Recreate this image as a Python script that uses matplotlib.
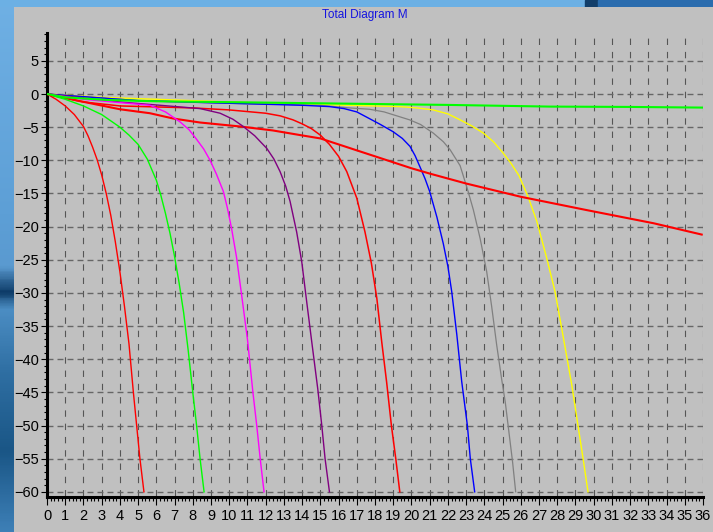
import matplotlib
matplotlib.use("Agg")
import matplotlib.pyplot as plt
import numpy as np
from matplotlib.ticker import MultipleLocator
from matplotlib.colors import LinearSegmentedColormap

plt.rcParams['font.family'] = ['Liberation Sans', 'DejaVu Sans']

# curves (x, y)
red1_x = [0, 0.5, 1, 1.5, 2, 2.25, 2.5, 2.75, 3, 3.25, 3.5, 3.75, 4, 4.25, 4.5, 4.74, 4.92, 5.1, 5.32]
red1_y = [0, -0.8, -1.8, -3.1, -4.9, -6.3, -8.0, -9.9, -12.2, -15.0, -18.3, -22.3, -26.8, -32, -37.7, -45, -50, -55, -60]

green1_x = [0, 1, 2, 3, 4, 4.5, 5, 5.5, 6, 6.25, 6.5, 6.75, 7, 7.25, 7.5, 7.75, 8, 8.21, 8.4, 8.62]
green1_y = [0, -0.8, -1.8, -3.1, -5.0, -6.2, -7.6, -9.8, -13, -15.3, -18, -21, -24.5, -28.5, -33, -38.7, -45, -50, -55, -60]

magenta_x = [0, 2, 4, 5.65, 6.5, 7.3, 7.8, 8.2, 8.6, 8.95, 9.3, 9.68, 9.9, 10.13, 10.4, 10.68, 11.0, 11.3, 11.51, 11.7, 11.91]
magenta_y = [0, -0.8, -1.3, -1.7, -2.7, -4.2, -5.4, -6.8, -8.3, -10, -12.1, -14.7, -17.2, -20.3, -24.6, -30.3, -37, -45, -50, -55, -60]

purple_x = [0, 4, 8.4, 9.5, 10.2, 10.77, 11.4, 12.06, 12.45, 12.79, 13.1, 13.34, 13.7, 13.98, 14.25, 14.53, 14.86, 15.08, 15.26, 15.5]
purple_y = [0, -1.2, -2.2, -2.9, -3.8, -4.9, -6.3, -8.2, -9.8, -11.7, -13.9, -16.2, -20.8, -25.3, -31.3, -37.4, -44.5, -50, -55, -60]

red2_x = [0, 2, 4, 8, 10, 12, 12.8, 13.5, 14.0, 14.5, 15.0, 15.5, 16.0, 16.45, 17, 17.45, 17.8, 18.1, 18.37, 18.64, 18.9, 19.14, 19.36]
red2_y = [0, -1.2, -1.8, -2.1, -2.4, -2.9, -3.3, -3.9, -4.5, -5.2, -6.2, -7.6, -9.4, -11.7, -15.7, -20.8, -25.5, -30.8, -37.4, -43.5, -50, -55, -60]

blue_x = [0, 5, 10, 14, 15.5, 16.3, 17, 17.55, 18.3, 19.0, 19.5, 19.92, 20.2, 20.47, 20.75, 21.0, 21.4, 21.75, 22.0, 22.21, 22.49, 22.76, 23.07, 23.23, 23.47]
blue_y = [0, -1.0, -1.4, -1.7, -1.9, -2.2, -2.7, -3.5, -4.6, -5.7, -6.7, -7.9, -9.3, -11.0, -12.8, -14.7, -18.6, -22.6, -26, -29.8, -36.3, -43.4, -50, -55, -60]

gray_x = [0, 5, 10, 15, 16.6, 17.7, 18.5, 19.9, 20.5, 21.2, 21.75, 22.12, 22.67, 23.1, 23.4, 23.77, 24.13, 24.4, 24.68, 24.95, 25.15, 25.35, 25.55, 25.72]
gray_y = [0, -1.0, -1.4, -1.7, -2.1, -2.3, -2.7, -3.9, -4.6, -5.9, -7.2, -8.4, -10.8, -14.6, -17.5, -21.8, -26.8, -32, -37.9, -43, -46.5, -51, -55.5, -60]

yellow_x = [0, 3, 6, 10, 15, 19.37, 20.3, 21.2, 22.0, 22.67, 23.3, 23.95, 24.5, 25.0, 25.45, 25.9, 26.4, 26.88, 27.4, 27.88, 28.34, 28.8, 29.14, 29.42, 29.69]
yellow_y = [0, -0.5, -0.8, -1.2, -1.6, -1.9, -2.1, -2.4, -3.0, -3.9, -4.8, -5.9, -7.2, -8.8, -10.4, -12.3, -15.5, -19.2, -24.5, -29.8, -36.8, -43.9, -50, -55, -60]

red3_x = [0, 1.5, 4, 5.65, 6.93, 8.4, 10.6, 12.4, 13.9, 15, 16, 17, 18, 19, 20, 21, 23, 26, 29.6, 33.3, 35.93]
red3_y = [0, -0.9, -2.3, -2.9, -3.7, -4.3, -4.9, -5.5, -6.2, -6.7, -7.6, -8.5, -9.4, -10.3, -11.2, -12.0, -13.5, -15.5, -17.5, -19.5, -21.2]

lime_x = [0, 1, 3.3, 6, 10.6, 17.7, 22.1, 27.6, 32, 36]
lime_y = [0, -0.5, -0.9, -1.1, -1.25, -1.5, -1.65, -1.9, -1.95, -2.05]

W, H = 713, 532
fig = plt.figure(figsize=(W / 100, H / 100), dpi=100)
fig.patch.set_facecolor('#c0c0c0')

# blue desktop strips around the grey panel
side = fig.add_axes([0, 0, 14 / W, 1])
side.axis('off')
cmap = LinearSegmentedColormap.from_list('desk', [
    (0.0, '#3d7fb6'), (0.15, '#1a5686'), (0.3, '#2f6fa3'), (0.42, '#4c8ec4'),
    (0.45, '#0c3a66'), (0.5, '#5a9ad0'), (0.6, '#5d9fd6'), (1.0, '#6fb0e4')])
side.imshow(np.linspace(0, 1, 200).reshape(-1, 1), aspect='auto', cmap=cmap,
            extent=[0, 1, 0, 1], origin='lower')
top = fig.add_axes([0, 1 - 7 / H, 1, 7 / H])
top.axis('off')
top.set_xlim(0, W)
top.set_ylim(0, 1)
top.axvspan(0, 585, color='#6cb0e4')
top.axvspan(585, 598, color='#123e6a')
top.axvspan(598, W, color='#2a6cae')

ax = fig.add_axes([47 / W, (H - 497) / H, (703 - 47) / W, (497 - 33) / H])
ax.set_facecolor('#c0c0c0')

ax.plot(lime_x, lime_y, color='#00ff00', lw=1.5, zorder=4)
ax.plot(yellow_x, yellow_y, color='#ffff00', lw=1.0, zorder=3)
ax.plot(gray_x, gray_y, color='#808080', lw=0.9, zorder=3)
ax.plot(blue_x, blue_y, color='#0000ff', lw=1.0, zorder=3)
ax.plot(red3_x, red3_y, color='#ff0000', lw=1.5, zorder=3)
ax.plot(red2_x, red2_y, color='#ff0000', lw=1.1, zorder=3)
ax.plot(purple_x, purple_y, color='#800080', lw=1.0, zorder=3)
ax.plot(magenta_x, magenta_y, color='#ff00ff', lw=1.0, zorder=3)
ax.plot(green1_x, green1_y, color='#00ff00', lw=1.0, zorder=3)
ax.plot(red1_x, red1_y, color='#ff0000', lw=1.0, zorder=3)

ax.set_xlim(0, 36)
ax.set_ylim(-60.78, 9.2)
ax.set_xticks(range(0, 37))
ax.set_yticks(range(-60, 6, 5))
ax.xaxis.set_minor_locator(MultipleLocator(0.2))
ax.yaxis.set_minor_locator(MultipleLocator(1))

ax.tick_params(axis='x', which='major', length=6, width=0.8, pad=3, labelsize=10.5)
ax.tick_params(axis='x', which='minor', length=3, width=0.8)
ax.tick_params(axis='y', which='major', length=4, width=0.8, pad=2, labelsize=10.5)
ax.tick_params(axis='y', which='minor', length=2, width=0.8)

ax.yaxis.grid(True, which='major', color='#666666', lw=1.0, linestyle=(0, (4.3, 2.9)))
ax.xaxis.grid(True, which='major', color='#555555', lw=0.8, linestyle=(11, (5.75, 6.2)))
ax.set_axisbelow(True)

for s in ['top', 'right']:
    ax.spines[s].set_visible(False)
for s in ['left', 'bottom']:
    ax.spines[s].set_linewidth(2.2)
    ax.spines[s].set_color('black')

fig.text(365 / W, 1 - 15 / H, 'Total Diagram M', color='#1414e0',
         fontsize=8.5, ha='center', va='center')

fig.savefig('out.png', dpi=100, facecolor=fig.get_facecolor())
